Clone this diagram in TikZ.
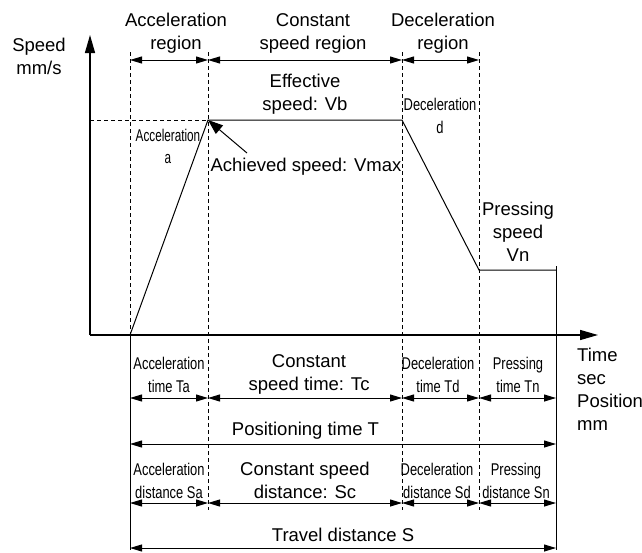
\documentclass[tikz,border=0pt]{standalone}
\usepackage{fontspec}
\setmainfont{Liberation Sans}
\newfontfamily\narrowfont[FakeStretch=0.76]{Liberation Sans}
\newfontfamily\narrowerfont[FakeStretch=0.69]{Liberation Sans}
\usetikzlibrary{arrows.meta}
\begin{document}
\begin{tikzpicture}[x=1pt,y=-1pt,
  lbl/.style={inner sep=0pt, align=center, font=\fontsize{18.5}{23}\selectfont},
  nlbl/.style={inner sep=0pt, align=center, font=\narrowfont\fontsize{17}{23}\selectfont},
  nnlbl/.style={inner sep=0pt, align=center, font=\narrowerfont\fontsize{17}{22}\selectfont},
  dim/.style={line width=1pt, {Triangle[length=12pt,width=7pt]}-{Triangle[length=12pt,width=7pt]}},
  guide/.style={line width=0.9pt, dash pattern=on 4pt off 3pt},
  axis/.style={line width=1.4pt, -{Triangle[length=18pt,width=10pt]}},
  prof/.style={line width=1pt}
]
\useasboundingbox (0,0) rectangle (642,552);
% columns and rows
\coordinate (O) at (90,335);
\coordinate (c0) at (130,0);
\coordinate (c1) at (208,0);
\coordinate (c2) at (402,0);
\coordinate (c3) at (479,0);
\coordinate (c4) at (556,0);
\coordinate (rtop) at (0,52);
\coordinate (rA) at (0,60);
\coordinate (rV) at (0,120);
\coordinate (rN) at (0,270);
\coordinate (rX) at (0,335);
\coordinate (rT1) at (0,398);
\coordinate (rT) at (0,444);
\coordinate (rS1) at (0,503);
\coordinate (rS) at (0,548);
\coordinate (rlow) at (0,510);
\coordinate (rbot) at (0,550);
\coordinate (yend) at (90,35);
\coordinate (xend) at (598,335);
% profile points
\coordinate (p0) at (c0|-rX);
\coordinate (p1) at (c1|-rV);
\coordinate (p2) at (c2|-rV);
\coordinate (p3) at (c3|-rN);
\coordinate (p4) at (c4|-rN);
\coordinate (vtop) at (556,266);
\coordinate (vl) at (O|-rV);
\coordinate (achtail) at (247,153);

% guide lines
\draw[guide] (c0|-rtop) -- (c0|-rX);
\draw[guide] (c1|-rtop) -- (c1|-rlow);
\draw[guide] (c2|-rtop) -- (c2|-rlow);
\draw[guide] (c3|-rtop) -- (c3|-rlow);
\draw[guide] (vl) -- (p1);
\draw[line width=1pt] (c0|-rX) -- (c0|-rbot);
\draw[line width=1pt] (vtop) -- (c4|-rbot);

% axes
\draw[axis] (O) -- (yend);
\draw[axis] (O) -- (xend);

% profile
\draw[prof] (p0) -- (p1) -- (p2) -- (p3) -- (p4);

% achieved arrow
\draw[line width=1pt, -{Triangle[length=15pt,width=11pt]}] (achtail) -- (p1);

% dimension rows
\draw[dim] (c0|-rA) -- (c1|-rA);
\draw[dim] (c1|-rA) -- (c2|-rA);
\draw[dim] (c2|-rA) -- (c3|-rA);

\draw[dim] (c0|-rT1) -- (c1|-rT1);
\draw[dim] (c1|-rT1) -- (c2|-rT1);
\draw[dim] (c2|-rT1) -- (c3|-rT1);
\draw[dim] (c3|-rT1) -- (c4|-rT1);

\draw[dim] (c0|-rT) -- (c4|-rT);

\draw[dim] (c0|-rS1) -- (c1|-rS1);
\draw[dim] (c1|-rS1) -- (c2|-rS1);
\draw[dim] (c2|-rS1) -- (c3|-rS1);
\draw[dim] (c3|-rS1) -- (c4|-rS1);

\draw[dim] (c0|-rS) -- (c4|-rS);

% labels
\node[lbl] (ylab) at (39,56.5) {Speed\\mm/s};
\node[lbl] (accreg) at (176,33.5) {Acceleration\\region};
\node[lbl] (conreg) at (313,33.5) {Constant\\speed region};
\node[lbl] (decreg) at (443,33.5) {Deceleration\\region};
\node[lbl] (eff) at (305,94.5) {Effective\\speed: Vb};
\node[nnlbl] (acca) at (168,146) {Acceleration\\a};
\node[nlbl] (decd) at (440,116) {Deceleration\\d};
\node[lbl] (ach) at (306,167) {Achieved speed: Vmax};
\node[lbl] (press) at (518,232) {Pressing\\speed\\Vn};
\node[lbl, align=left, anchor=west] (tlab) at (577,389) {Time\\sec\\Position\\mm};

\node[nlbl] (ta) at (169,374.5) {Acceleration\\time Ta};
\node[lbl] (tc) at (309,374.5) {Constant\\speed time: Tc};
\node[nlbl] (td) at (438,374.5) {Deceleration\\time Td};
\node[nlbl] (tn) at (518,374.5) {Pressing\\time Tn};
\node[lbl] (tt) at (305.5,431) {Positioning time T};

\node[nlbl] (sa) at (169,480.5) {Acceleration\\distance Sa};
\node[lbl] (sc) at (305,480.5) {Constant speed\\distance: Sc};
\node[nlbl] (sd) at (437,480.5) {Deceleration\\distance Sd};
\node[nlbl] (sn) at (516,480.5) {Pressing\\distance Sn};
\node[lbl] (ss) at (343,535) {Travel distance S};
\end{tikzpicture}
\end{document}
